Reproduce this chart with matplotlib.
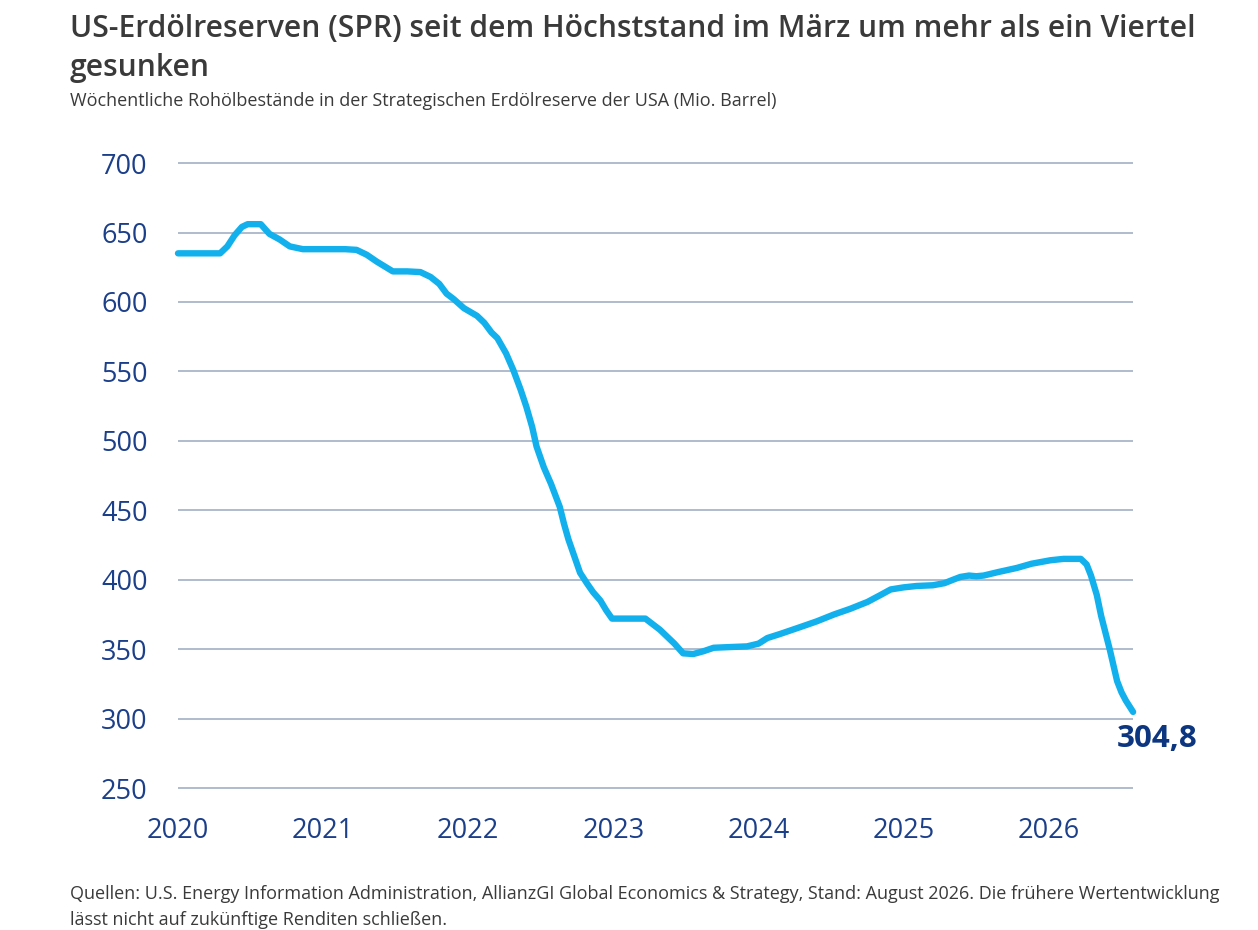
import matplotlib
matplotlib.use("Agg")
import matplotlib.pyplot as plt

# decimal year, SPR stock (Mio. Barrel)
years = [2020.00, 2020.29, 2020.34, 2020.39, 2020.44, 2020.48, 2020.57, 2020.63,
         2020.70, 2020.77, 2020.86, 2021.00, 2021.15, 2021.23, 2021.30, 2021.37,
         2021.48, 2021.58, 2021.67, 2021.74, 2021.80, 2021.85, 2021.90, 2021.97,
         2022.06, 2022.11, 2022.16, 2022.20, 2022.26, 2022.31, 2022.36, 2022.40,
         2022.44, 2022.47, 2022.52, 2022.57, 2022.63, 2022.66, 2022.69, 2022.73,
         2022.77, 2022.82, 2022.86, 2022.91, 2022.95, 2022.99, 2023.10, 2023.22,
         2023.27, 2023.32, 2023.37, 2023.42, 2023.48, 2023.55, 2023.62, 2023.69,
         2023.80, 2023.92, 2024.00, 2024.06, 2024.15, 2024.29, 2024.40, 2024.52,
         2024.63, 2024.75, 2024.84, 2024.91, 2025.00, 2025.09, 2025.20, 2025.28,
         2025.34, 2025.39, 2025.45, 2025.50, 2025.55, 2025.65, 2025.78, 2025.88,
         2026.01, 2026.10, 2026.22, 2026.26, 2026.29, 2026.33, 2026.36, 2026.42,
         2026.47, 2026.50, 2026.53, 2026.58]
stock = [635, 635, 640, 648, 654, 656, 656, 649,
         645, 640, 638, 638, 638, 637.5, 634, 629,
         622, 622, 621.5, 618, 613, 606, 602, 595.5,
         590, 585, 578, 574, 563, 551, 537, 524.5,
         510, 496, 481, 469, 452.5, 440, 429, 417,
         405, 397, 391, 385, 378, 372, 372, 372,
         368, 364, 359, 354, 347, 346.5, 348.5, 351,
         351.5, 352, 354, 358, 361, 366, 370, 375,
         379, 384, 389, 393, 394.5, 395.5, 396, 397.5,
         400, 402, 403, 402.5, 403, 405.5, 408.5, 411.5,
         414, 415, 415, 411, 403, 389, 374, 349.5,
         327, 319, 313, 304.8]

year_ticks = [2020, 2021, 2022, 2023, 2024, 2025, 2026]
value_ticks = [250, 300, 350, 400, 450, 500, 550, 600, 650, 700]
last_label = "304,8"

title = "US-Erdölreserven (SPR) seit dem Höchststand im März um mehr als ein Viertel\ngesunken"
subtitle = "Wöchentliche Rohölbestände in der Strategischen Erdölreserve der USA (Mio. Barrel)"
source = ("Quellen: U.S. Energy Information Administration, AllianzGI Global Economics & Strategy, "
          "Stand: August 2026. Die frühere Wertentwicklung\nlässt nicht auf zukünftige Renditen schließen.")

plt.rcParams['font.family'] = ['Open Sans', 'DejaVu Sans']

navy = "#1c3f8a"
cyan = "#12b0ec"
grid = "#aab5ca"
text_grey = "#3a3a3a"

fig = plt.figure(figsize=(12.58, 9.30), dpi=100)
ax = fig.add_axes([0.1415, 0.1377, 0.7592, 0.7019])

ax.plot(years, stock, color=cyan, lw=4.6, solid_capstyle="round",
        solid_joinstyle="round", clip_on=False, zorder=3)
ax.text(years[-1] + 0.165, stock[-1] - 9, last_label, color="#0d3680",
        fontsize=22.5, fontweight="bold", ha="center", va="top")

ax.set_xlim(2020, 2026.58)
ax.set_ylim(240, 710)
ax.set_yticks(value_ticks)
ax.set_xticks(year_ticks)
ax.set_xticklabels([str(y) for y in year_ticks])
ax.grid(axis="y", color=grid, lw=1.3)
ax.set_axisbelow(True)
for s in ax.spines.values():
    s.set_visible(False)
ax.tick_params(axis="both", length=0, labelsize=19.5, labelcolor=navy)
ax.tick_params(axis="y", pad=22)
ax.tick_params(axis="x", pad=11)

fig.text(0.0556, 0.9475, title, fontsize=21.6, color=text_grey, fontweight="semibold",
         ha="left", va="center", linespacing=1.38)
fig.text(0.0556, 0.891, subtitle, fontsize=13, color=text_grey, ha="left", va="center")
fig.text(0.0556, 0.0485, source, fontsize=13, color=text_grey, ha="left", va="top",
         linespacing=1.55)

fig.savefig("out.png", dpi=100)
